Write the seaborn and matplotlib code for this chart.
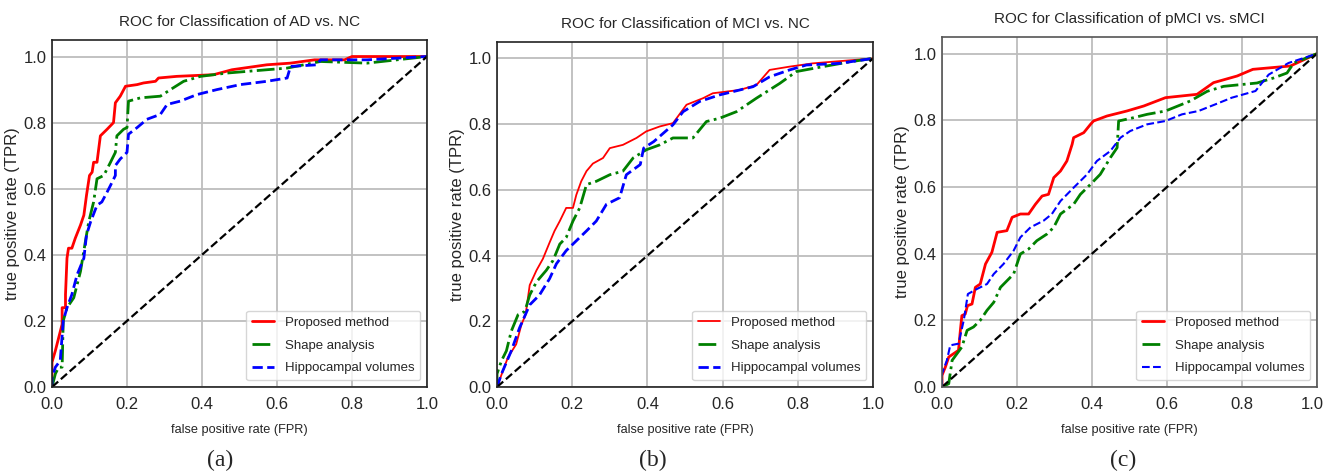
import matplotlib
matplotlib.use("Agg")
import matplotlib.pyplot as plt
import matplotlib.transforms as mtransforms
import seaborn as sns
import numpy as np

# ---------------- data ----------------
titles = ["ROC for Classification of AD vs. NC",
          "ROC for Classification of MCI vs. NC",
          "ROC for Classification of pMCI vs. sMCI"]
captions = ["(a)", "(b)", "(c)"]
series_names = ["Proposed method", "Shape analysis", "Hippocampal volumes"]
ticks = [0.0, 0.2, 0.4, 0.6, 0.8, 1.0]

# Panel (a): AD vs NC
a_prop_fpr = [0, 0, .009, .018, .027, .027, .036, .036, .04, .044, .053, .062, .076, .085, .092, .1, .107, .111, .12, .129, .147, .164, .169, .182, .196, .227, .244, .276, .284, .333, .431, .48, .573, .636, .7, .78, .8, 1]
a_prop_tpr = [0, .075, .11, .15, .19, .24, .24, .28, .39, .42, .42, .45, .49, .52, .58, .64, .65, .68, .68, .76, .78, .80, .86, .88, .91, .915, .92, .925, .935, .94, .945, .96, .975, .98, .99, .99, 1.0, 1.0]
a_shape_fpr = [0, .009, .018, .027, .03, .04, .058, .076, .089, .098, .111, .12, .138, .156, .169, .173, .191, .2, .204, .236, .289, .316, .351, .396, .467, .573, .627, .716, .84, 1]
a_shape_tpr = [0, .04, .06, .06, .2, .24, .27, .35, .44, .5, .56, .63, .64, .68, .71, .76, .78, .785, .865, .875, .88, .9, .925, .94, .95, .96, .965, .985, .98, 1]
a_hippo_fpr = [0, 0, .009, .022, .03, .04, .053, .067, .085, .092, .103, .12, .133, .147, .156, .169, .169, .182, .2, .204, .227, .253, .289, .307, .342, .387, .44, .502, .573, .627, .636, .707, .716, .84, 1]
a_hippo_tpr = [0, .03, .06, .08, .2, .24, .28, .34, .39, .46, .5, .55, .56, .59, .61, .64, .67, .69, .71, .765, .785, .81, .825, .855, .865, .885, .9, .915, .925, .935, .97, .975, .99, .99, 1]

# Panel (b): MCI vs NC
b_prop_fpr = [0, .016, .029, .051, .065, .076, .087, .105, .122, .14, .153, .167, .184, .202, .211, .224, .238, .255, .282, .3, .335, .371, .397, .433, .468, .504, .548, .574, .645, .69, .725, .778, .84, 1]
b_prop_tpr = [0, .05, .09, .13, .19, .22, .31, .355, .39, .44, .475, .505, .545, .545, .585, .626, .657, .68, .697, .727, .737, .758, .778, .793, .803, .859, .879, .894, .904, .919, .965, .975, .985, 1]
b_shape_fpr = [0, 0, .012, .025, .038, .056, .074, .087, .105, .131, .149, .167, .184, .202, .22, .238, .264, .3, .335, .362, .397, .433, .468, .521, .557, .592, .637, .69, .752, .796, .867, .94, 1]
b_shape_tpr = [0, .04, .08, .11, .17, .22, .23, .28, .32, .355, .385, .435, .455, .505, .545, .616, .626, .646, .657, .697, .722, .737, .758, .758, .808, .818, .838, .879, .924, .96, .975, .99, 1]
b_hippo_fpr = [0, .012, .038, .06, .087, .113, .14, .158, .184, .211, .238, .264, .291, .326, .344, .381, .39, .417, .443, .468, .495, .539, .592, .628, .681, .725, .778, .823, .911, 1]
b_hippo_tpr = [0, .04, .11, .18, .25, .28, .33, .375, .415, .445, .475, .505, .556, .576, .646, .677, .727, .747, .773, .798, .838, .869, .889, .899, .914, .944, .965, .98, .985, 1]

# Panel (c): pMCI vs sMCI
c_prop_fpr = [0, 0, .009, .018, .031, .044, .049, .053, .062, .068, .08, .089, .102, .116, .133, .147, .173, .187, .209, .231, .249, .267, .284, .298, .316, .333, .347, .351, .378, .396, .404, .44, .493, .538, .596, .68, .724, .787, .829, .929, 1]
c_prop_tpr = [0, .035, .06, .09, .1, .11, .17, .214, .219, .244, .249, .299, .309, .369, .404, .464, .469, .509, .519, .519, .548, .573, .578, .628, .648, .678, .728, .748, .763, .788, .798, .813, .828, .843, .868, .878, .913, .933, .953, .963, 1]
c_shape_fpr = [0, .018, .027, .053, .067, .084, .102, .12, .138, .156, .191, .209, .231, .253, .28, .298, .316, .351, .369, .396, .422, .449, .467, .471, .511, .547, .596, .662, .707, .751, .84, .884, .92, .938, 1]
c_shape_tpr = [0, .01, .08, .12, .17, .18, .2, .23, .254, .299, .339, .399, .414, .439, .459, .479, .519, .548, .578, .608, .638, .688, .718, .798, .808, .818, .828, .858, .887, .902, .912, .927, .942, .972, 1]
c_hippo_fpr = [0, 0, .013, .022, .044, .058, .069, .093, .12, .138, .164, .191, .209, .236, .271, .293, .316, .351, .387, .413, .449, .476, .502, .547, .596, .64, .684, .729, .773, .836, .871, .924, 1]
c_hippo_tpr = [0, .04, .08, .125, .13, .2, .279, .294, .309, .339, .369, .409, .449, .479, .499, .519, .558, .598, .638, .678, .708, .748, .768, .788, .798, .818, .828, .848, .868, .888, .937, .972, 1]

panels = [
    [(a_prop_fpr, a_prop_tpr), (a_shape_fpr, a_shape_tpr), (a_hippo_fpr, a_hippo_tpr)],
    [(b_prop_fpr, b_prop_tpr), (b_shape_fpr, b_shape_tpr), (b_hippo_fpr, b_hippo_tpr)],
    [(c_prop_fpr, c_prop_tpr), (c_shape_fpr, c_shape_tpr), (c_hippo_fpr, c_hippo_tpr)],
]
diag = [0.0, 1.0]

# ---------------- style ----------------
sns.set_style("white")
plt.rcParams['font.family'] = ['Liberation Sans', 'DejaVu Sans']

colors = ["#ff0000", "#008000", "#0000ff"]
styles = ["-", "-.", "--"]
widths = [[2.0, 2.0, 2.0], [1.3, 2.0, 2.0], [2.0, 2.0, 1.5]]
spine_colors = ["#222222", "#222222", "#555555"]

fig = plt.figure(figsize=(13.25, 4.75), dpi=100)
rects = [
    [52/1325, 1-387/475, 375/1325, 347/475],
    [497/1325, 1-387/475, 376/1325, 345/475],
    [942/1325, 1-387/475, 375/1325, 350/475],
]
cap_x = [220/1325, 653/1325, 1123/1325]

for i, rect in enumerate(rects):
    ax = fig.add_axes(rect)
    for j, (fx, ty) in enumerate(panels[i]):
        sns.lineplot(x=fx, y=ty, ax=ax, sort=False, estimator=None,
                     color=colors[j], linestyle=styles[j], linewidth=widths[i][j],
                     label=series_names[j])
    sns.lineplot(x=diag, y=diag, ax=ax, sort=False, estimator=None,
                 color="black", linestyle="--", linewidth=1.6)
    ax.set_xlim(0, 1.0)
    ax.set_ylim(0, 1.05)
    ax.set_xticks(ticks)
    ax.set_yticks(ticks)
    ax.set_xticklabels([f"{t:.1f}" for t in ticks], fontsize=12)
    ax.set_yticklabels([f"{t:.1f}" for t in ticks], fontsize=12)
    ax.tick_params(axis="x", length=0, pad=7)
    ax.tick_params(axis="y", length=0, pad=4)
    if i == 2:
        last = ax.get_xticklabels()[-1]
        last.set_transform(last.get_transform() +
                           mtransforms.ScaledTranslation(-5/100, 0, fig.dpi_scale_trans))
    ax.grid(True, color="#bdbdbd", linewidth=1.3)
    for s in ax.spines.values():
        s.set_color(spine_colors[i])
        s.set_linewidth(1.2)
    ax.set_title(titles[i], fontsize=11, pad=10)
    ax.set_xlabel("false positive rate (FPR)", fontsize=9.2, labelpad=9)
    ax.set_ylabel("true positive rate (TPR)", fontsize=12)
    ax.yaxis.set_label_coords(-0.084, 0.5)
    leg = ax.legend(loc="lower right", fontsize=9.5, frameon=True,
                    handlelength=1.7, borderpad=0.45, labelspacing=0.8,
                    handletextpad=0.8, borderaxespad=0.5)
    leg.get_frame().set_edgecolor("#cccccc")
    fig.text(cap_x[i], 1 - 460/475, captions[i], ha="center", va="center",
             fontsize=17, family="Liberation Serif")

fig.savefig("out.png", dpi=100)
